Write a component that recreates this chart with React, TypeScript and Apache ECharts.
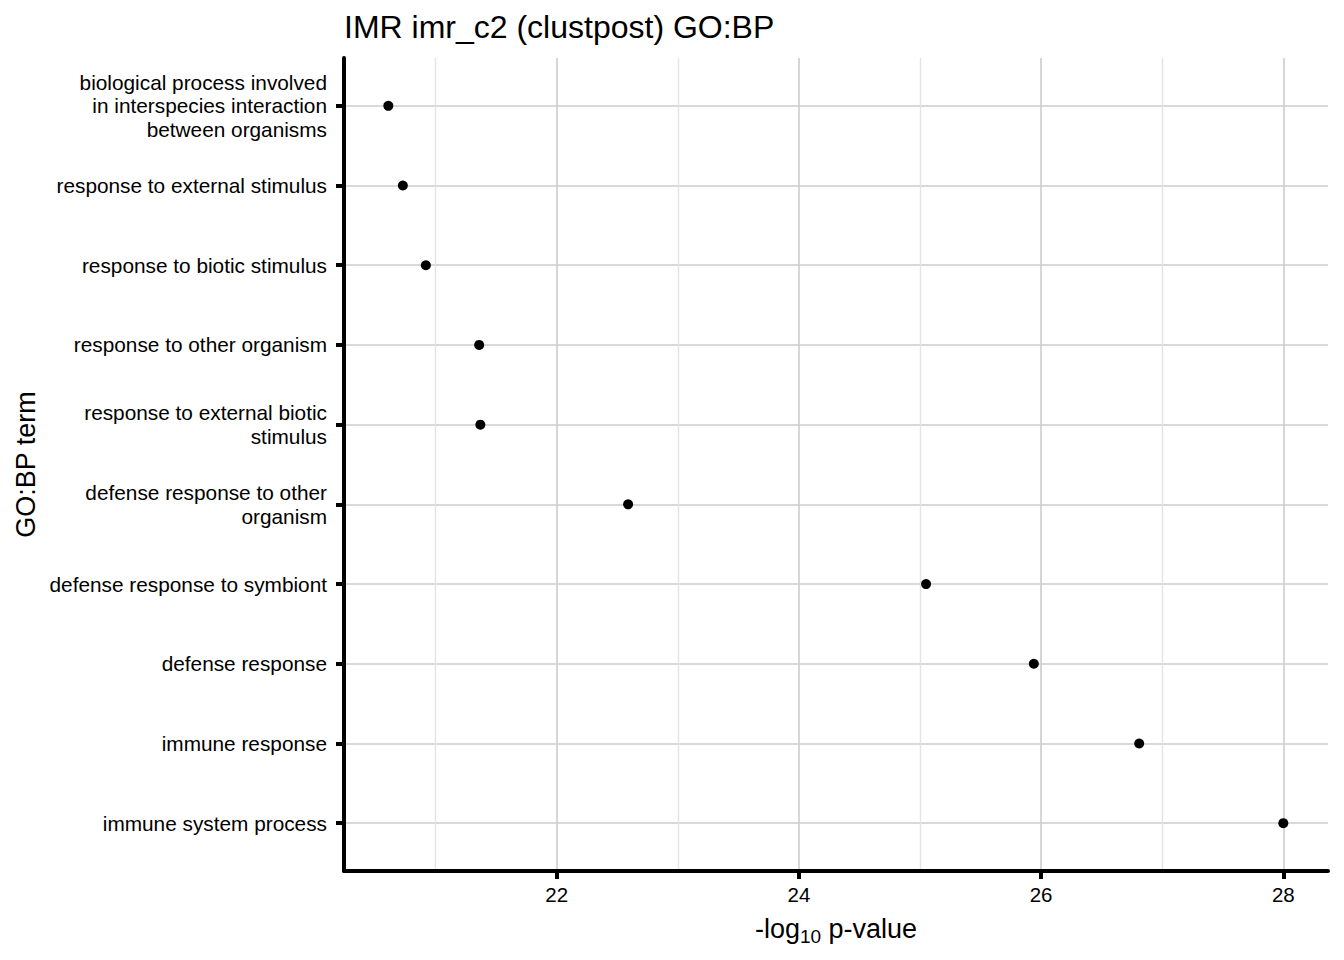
import React, { useEffect, useRef } from "react";
import * as echarts from "echarts";

const FONT = "'Liberation Sans', Arial, sans-serif";

const terms = [
  "biological process involved\nin interspecies interaction\nbetween organisms",
  "response to external stimulus",
  "response to biotic stimulus",
  "response to other organism",
  "response to external biotic\nstimulus",
  "defense response to other\norganism",
  "defense response to symbiont",
  "defense response",
  "immune response",
  "immune system process",
];
const negLog10P = [20.61, 20.73, 20.92, 21.36, 21.37, 22.59, 25.05, 25.94, 26.81, 28.0];
const majorTicks = [22, 24, 26, 28];
const minorTicks = [21, 23, 25, 27];
const xMin = 20.244;
const xMax = 28.369;

// y slots every 0.2 category units from -0.6 to 9.6 (ggplot-style 0.6 expansion)
const SLOT_COUNT = 52;
const slotOf = (k: number) => 3 + 5 * k;
const slots: string[] = [];
for (let i = 0; i < SLOT_COUNT; i++) slots.push("");
terms.forEach((t, k) => (slots[slotOf(k)] = t));
const isTermSlot = (i: number) => i >= 3 && (i - 3) % 5 === 0 && (i - 3) / 5 < terms.length;

export default function App() {
  const ref = useRef<HTMLDivElement>(null);
  useEffect(() => {
    if (!ref.current) return;
    const chart = echarts.init(ref.current, undefined, { renderer: "svg" });
    chart.setOption({
      animation: false,
      backgroundColor: "#ffffff",
      textStyle: { fontFamily: FONT },
      title: {
        text: "IMR imr_c2 (clustpost) GO:BP",
        left: 339,
        top: 6,
        textStyle: { fontSize: 32, fontWeight: "normal", color: "#000", fontFamily: FONT },
      },
      grid: { left: 344, right: 16, top: 58, bottom: 89, containLabel: false, outerBoundsMode: "none" },
      xAxis: [
        {
          type: "value",
          min: xMin,
          max: xMax,
          position: "bottom",
          axisLine: { show: true, lineStyle: { color: "#000", width: 4 } },
          axisTick: { show: true, customValues: majorTicks, length: 8, lineStyle: { color: "#000", width: 4 } },
          axisLabel: { customValues: majorTicks, fontSize: 20.5, color: "#000", margin: 13, fontFamily: FONT },
          splitLine: { show: true, lineStyle: { color: "#cccccc", width: 1.6 } },
          name: "-log{sub|10} p-value",
          nameLocation: "middle",
          nameGap: 40,
          nameMoveOverlap: false,
          nameTextStyle: {
            fontSize: 27,
            color: "#000",
            fontFamily: FONT,
            rich: { sub: { fontSize: 19, color: "#000", fontFamily: FONT, padding: [16, 0, 0, 0] } },
          },
        },
        {
          type: "value",
          min: xMin,
          max: xMax,
          position: "bottom",
          axisLine: { show: false },
          axisTick: { show: false, customValues: minorTicks },
          axisLabel: { show: false, customValues: minorTicks },
          splitLine: { show: true, lineStyle: { color: "#e3e3e3", width: 1.4 } },
          z: 0,
        },
      ],
      yAxis: {
        type: "category",
        data: slots,
        inverse: true,
        boundaryGap: false,
        axisLine: { show: true, lineStyle: { color: "#000", width: 4 } },
        axisTick: {
          show: true,
          length: 8,
          interval: (i: number) => isTermSlot(i),
          lineStyle: { color: "#000", width: 4 },
        },
        axisLabel: {
          interval: (i: number) => isTermSlot(i),
          fontSize: 20.8,
          lineHeight: 23.5,
          color: "#000",
          margin: 17,
          align: "right",
          fontFamily: FONT,
        },
        splitLine: {
          show: true,
          interval: (i: number) => isTermSlot(i),
          lineStyle: { color: "#cccccc", width: 1.6 },
        },
        name: "GO:BP term",
        nameLocation: "middle",
        nameRotate: 90,
        nameGap: 305,
        nameMoveOverlap: false,
        nameTextStyle: { fontSize: 27, color: "#000", fontFamily: FONT },
      },
      series: [
        {
          type: "scatter",
          xAxisIndex: 0,
          symbol: "circle",
          symbolSize: 10,
          itemStyle: { color: "#000", opacity: 1 },
          data: negLog10P.map((v, k) => [v, slotOf(k)]),
          z: 5,
        },
      ],
    });
    return () => chart.dispose();
  }, []);
  return <div ref={ref} style={{ width: 1344, height: 960, margin: -8 }} />;
}
